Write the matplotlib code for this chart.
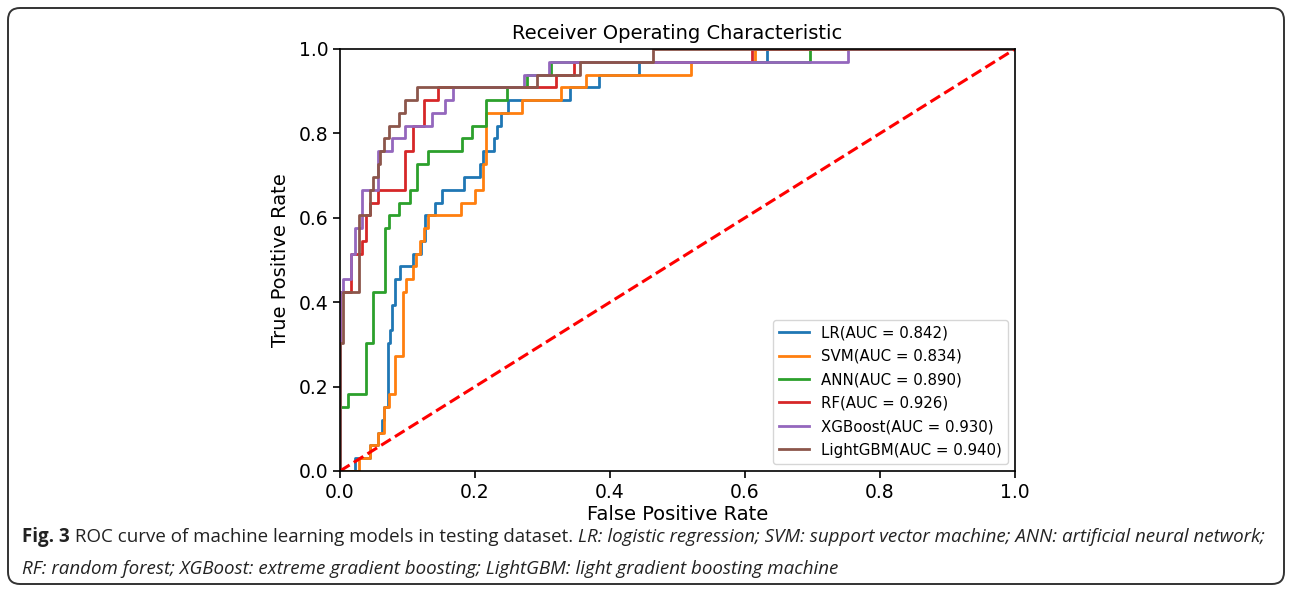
import matplotlib
matplotlib.use("Agg")
import matplotlib.pyplot as plt
from matplotlib.patches import FancyBboxPatch
from matplotlib.transforms import IdentityTransform

# ---------------- data (ROC corner points) ----------------
lr_fpr = [0, 0.022, 0.044, 0.057, 0.0617, 0.0657, 0.0716, 0.074, 0.0775, 0.0815, 0.089, 0.1086,
          0.12, 0.126, 0.1407, 0.1516, 0.184, 0.207, 0.2123, 0.228, 0.233, 0.2385, 0.249, 0.34,
          0.383, 0.4435, 0.632, 1.0]
lr_tpr = [0, 0.030, 0.061, 0.091, 0.121, 0.152, 0.303, 0.333, 0.394, 0.455, 0.485, 0.515,
          0.545, 0.606, 0.636, 0.667, 0.697, 0.727, 0.758, 0.788, 0.818, 0.848, 0.879, 0.909,
          0.939, 0.970, 1.0, 1.0]

svm_fpr = [0, 0.028, 0.044, 0.057, 0.0657, 0.073, 0.0815, 0.094, 0.098, 0.1086, 0.112, 0.1185,
           0.125, 0.13, 0.179, 0.2, 0.212, 0.216, 0.27, 0.328, 0.364, 0.52, 0.615, 1.0]
svm_tpr = [0, 0.030, 0.061, 0.091, 0.152, 0.182, 0.273, 0.424, 0.455, 0.485, 0.515, 0.545,
           0.576, 0.606, 0.636, 0.667, 0.727, 0.848, 0.879, 0.909, 0.939, 0.970, 1.0, 1.0]

ann_fpr = [0, 0, 0.012, 0.0385, 0.049, 0.0667, 0.072, 0.088, 0.104, 0.1136, 0.13, 0.18, 0.195,
           0.217, 0.248, 0.277, 0.313, 0.696, 1.0]
ann_tpr = [0, 0.152, 0.182, 0.303, 0.424, 0.576, 0.606, 0.636, 0.667, 0.727, 0.758, 0.788, 0.818,
           0.879, 0.909, 0.939, 0.970, 1.0, 1.0]

rf_fpr = [0, 0, 0.0163, 0.032, 0.038, 0.044, 0.0558, 0.097, 0.1086, 0.125, 0.1447, 0.32, 0.346,
          0.611, 1.0]
rf_tpr = [0, 0.424, 0.515, 0.545, 0.606, 0.636, 0.667, 0.758, 0.818, 0.879, 0.909, 0.939, 0.970,
          1.0, 1.0]

xgb_fpr = [0, 0, 0.005, 0.0163, 0.022, 0.032, 0.0558, 0.0765, 0.097, 0.136, 0.1556, 0.168, 0.272,
           0.309, 0.752, 1.0]
xgb_tpr = [0, 0.424, 0.455, 0.515, 0.576, 0.667, 0.758, 0.788, 0.818, 0.848, 0.879, 0.909, 0.939,
           0.970, 1.0, 1.0]

lgb_fpr = [0, 0, 0.005, 0.028, 0.044, 0.049, 0.056, 0.059, 0.065, 0.072, 0.088, 0.097, 0.114,
           0.292, 0.356, 0.464, 1.0]
lgb_tpr = [0, 0.303, 0.424, 0.606, 0.667, 0.697, 0.727, 0.758, 0.788, 0.818, 0.848, 0.879, 0.909,
           0.939, 0.970, 1.0, 1.0]

model_names = ["LR", "SVM", "ANN", "RF", "XGBoost", "LightGBM"]
model_auc = [0.842, 0.834, 0.890, 0.926, 0.930, 0.940]
model_colors = ["#1f77b4", "#ff7f0e", "#2ca02c", "#d62728", "#9467bd", "#8c564b"]
fprs = [lr_fpr, svm_fpr, ann_fpr, rf_fpr, xgb_fpr, lgb_fpr]
tprs = [lr_tpr, svm_tpr, ann_tpr, rf_tpr, xgb_tpr, lgb_tpr]

title_text = "Receiver Operating Characteristic"
xlabel_text = "False Positive Rate"
ylabel_text = "True Positive Rate"
tick_vals = [0.0, 0.2, 0.4, 0.6, 0.8, 1.0]

caption_line1 = [("Fig. 3", "bold", "normal"),
                 (" ROC curve of machine learning models in testing dataset. ", "normal", "normal"),
                 ("LR: logistic regression; SVM: support vector machine; ANN: artificial neural network;", "normal", "italic")]
caption_line2 = [("RF: random forest; XGBoost: extreme gradient boosting; LightGBM: light gradient boosting machine", "normal", "italic")]

# ---------------- figure ----------------
W, H = 1292, 592
fig = plt.figure(figsize=(W / 100, H / 100), dpi=100)
ax = fig.add_axes([340 / W, 1 - 471 / H, 675 / W, 422 / H])

for f, t, name, auc, c in zip(fprs, tprs, model_names, model_auc, model_colors):
    ax.plot(f, t, drawstyle="steps-post", color=c, lw=2.0,
            label="%s(AUC = %.3f)" % (name, auc))
ax.plot([0, 1], [0, 1], "r--", lw=2.2)

ax.set_xlim(0, 1)
ax.set_ylim(0, 1)
ax.set_xticks(tick_vals)
ax.set_yticks(tick_vals)
ax.tick_params(labelsize=13.5, length=5, width=1.2)
for s in ax.spines.values():
    s.set_linewidth(1.2)
ax.set_title(title_text, fontsize=14, pad=7)
ax.set_xlabel(xlabel_text, fontsize=14, labelpad=2)
ax.set_ylabel(ylabel_text, fontsize=14, labelpad=6)
leg = ax.legend(loc="lower right", fontsize=10.8, labelspacing=0.56, handlelength=2.0,
                borderaxespad=0.5)

# border
border = FancyBboxPatch((8, 8), W - 16, H - 16,
                        boxstyle="round,pad=0,rounding_size=12",
                        transform=IdentityTransform(), facecolor="none",
                        edgecolor="#333333", lw=1.4)
fig.add_artist(border)

# caption
cap_family = "Open Sans"


def draw_line(segs, x0, y, size):
    fig.canvas.draw()
    r = fig.canvas.get_renderer()
    x = x0
    arts = []
    for txt, wt, st in segs:
        t = fig.text(x / W, 1 - y / H, txt, fontsize=size, fontweight=wt, fontstyle=st,
                     family=cap_family, va="center", ha="left", color="#222222")
        bb = t.get_window_extent(renderer=r)
        x += bb.width
        arts.append(t)
    return x, arts


end, arts = draw_line(caption_line1, 22, 537, 12)
scale = (1262 - 22) / (end - 22)
for a in arts:
    a.remove()
size = 12 * scale
draw_line(caption_line1, 22, 537, size)
draw_line(caption_line2, 22, 569, size)

fig.savefig("out.png", dpi=100)
